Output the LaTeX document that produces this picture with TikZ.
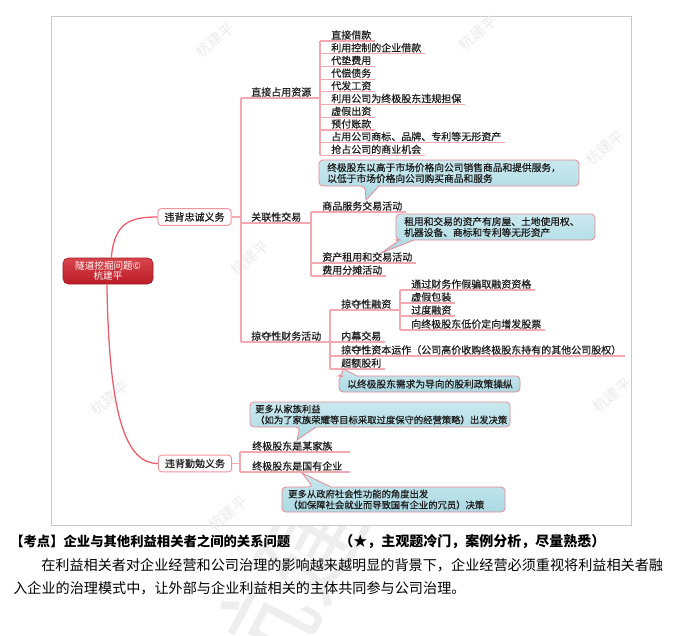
\documentclass[tikz,border=0pt]{standalone}
\usepackage{fontspec}
\setmainfont{Noto Sans CJK SC}
\newfontfamily\mmf{Noto Sans CJK SC}[FakeBold=0.6]
\usetikzlibrary{calc}
\definecolor{brc}{HTML}{F4A9B2}
\definecolor{curvec}{HTML}{EE5B68}
\definecolor{boxb}{HTML}{F0949E}
\definecolor{calf}{HTML}{ABD9E3}
\definecolor{calft}{HTML}{CBE9EF}
\definecolor{calb}{HTML}{E58A94}
\definecolor{rootf}{HTML}{BC1C26}
\definecolor{roott}{HTML}{D8454D}
\definecolor{frm}{HTML}{C9C9C9}
\definecolor{wm}{HTML}{EBEBEB}
\definecolor{txt}{HTML}{1E1E1E}
\newcommand\mmfont{\mmf\fontsize{7.5}{9}\selectfont}
\newcommand\calfont{\mmf\fontsize{7.3}{8.2}\selectfont}
\newcommand\calfontsm{\mmf\fontsize{7}{8.2}\selectfont}
\begin{document}
\begin{tikzpicture}[x=0.75pt,y=-0.75pt,
  br/.style={draw=brc, line width=0.9pt},
  curve/.style={draw=curvec, line width=0.95pt},
  leaf/.style={anchor=south west, inner xsep=0pt, inner ysep=0.8pt, font=\mmfont, text=txt},
  lone/.style={draw=boxb, fill=white, rounded corners=2.5pt, line width=0.7pt,
     minimum width=55pt, minimum height=12.5pt, inner sep=0pt, font=\mmfont, text=txt},
  rootbox/.style={rounded corners=4pt, top color=roott, bottom color=rootf, draw=rootf!85!black,
     line width=0.5pt, text=white, align=center, minimum width=67.5pt, minimum height=19.5pt,
     inner sep=0pt, font=\fontsize{7.2}{8}\selectfont},
  cal/.style={draw=calb, line width=0.6pt, top color=calft, bottom color=calf},
  caltext/.style={anchor=west, inner sep=0pt, align=left, font=\calfont, text=txt},
  wmark/.style={text=wm, rotate=40, font=\fontsize{11}{11}\selectfont}
]
\useasboundingbox (0,0) rectangle (697,636);
\fill[white] (0,0) rectangle (697,636);
% big faint watermark
\node[text=gray!13, rotate=62, font=\fontsize{80}{80}\selectfont] (bigwm) at (285,590) {杭建};
\draw[frm, fill=white, line width=0.75pt] (51,16) rectangle (631,525);
% watermarks
\foreach \p [count=\k] in {(215,40),(478,33),(605,148),(250,258),(110,398),(612,395),(228,513)}
  \node[wmark] (wm\k) at \p {杭建平};

% bar coordinates
\coordinate (b0) at (241,0);
\coordinate (bA) at (320,0);
\coordinate (bB) at (311,0);
\coordinate (bC) at (330,0);
\coordinate (bD) at (400,0);
\coordinate (bE) at (240,0);
\coordinate (eE) at (350,0);

% root and level 1
\node[rootbox] (root) at (108,271) {隧道挖掘问题©\\杭建平};
\node[lone] (L1a) at (194.5,217) {违背忠诚义务};
\node[lone] (L1b) at (195,463.5) {违背勤勉义务};
\draw[curve] ([xshift=2.5pt]root.north) .. controls +(3,-36) and +(-26,0) .. (L1a.west);
\draw[curve] ([xshift=-0.8pt]root.south) .. controls +(2,132) and +(-32,0) .. (L1b.west);

% level 2 under 违背忠诚义务
\node[leaf] (A1) at (251,98) {直接占用资源};
\node[leaf] (A2) at (251,223) {关联性交易};
\node[leaf] (A3) at (251,342) {掠夺性财务活动};
\draw[br] (L1a.east) -- (L1a.east -| b0);
\draw[br] (A1.south west -| b0) -- (A3.south west -| b0);
\draw[br] (A1.south west -| b0) -- (A1.south west -| bA);
\draw[br] (A2.south west -| b0) -- (A2.south west -| bB);
\draw[br] (A3.south west -| b0) -- (A3.south west -| bC);

% 直接占用资源 children
\foreach \t [count=\i from 0] in {直接借款,利用控制的企业借款,代垫费用,代偿债务,代发工资,利用公司为终极股东违规担保,虚假出资,预付账款,占用公司商标、品牌、专利等无形资产,抢占公司的商业机会}{
  \node[leaf] (d\i) at (331,41+12.7*\i) {\t};
  \draw[br] (d\i.south west -| bA) -- ([xshift=2.5pt]d\i.south east);
}
\draw[br] (d0.south west -| bA) -- (d9.south west -| bA);

% 关联性交易 children
\node[leaf] (g1) at (322,212) {商品服务交易活动};
\node[leaf] (g2) at (322,263) {资产租用和交易活动};
\node[leaf] (g3) at (322,276) {费用分摊活动};
\foreach \n in {g1,g2,g3}
  \draw[br] (\n.south west -| bB) -- ([xshift=2.5pt]\n.south east);
\draw[br] (g1.south west -| bB) -- (g3.south west -| bB);

% 掠夺性财务活动 children
\node[leaf] (R1) at (341,310) {掠夺性融资};
\node[leaf] (R2) at (341,342) {内幕交易};
\node[leaf] (R3) at (341,356) {掠夺性资本运作（公司高价收购终极股东持有的其他公司股权）};
\node[leaf] (R4) at (341,369) {超额股利};
\draw[br] (R1.south west -| bC) -- (R1.south west -| bD);
\foreach \n in {R2,R3,R4}
  \draw[br] (\n.south west -| bC) -- ([xshift=2.5pt]\n.south east);
\draw[br] (R1.south west -| bC) -- (R4.south west -| bC);

% 掠夺性融资 children
\node[leaf] (f1) at (411,290) {通过财务作假骗取融资资格};
\node[leaf] (f2) at (411,303) {虚假包装};
\node[leaf] (f3) at (411,316) {过度融资};
\node[leaf] (f4) at (411,330) {向终极股东低价定向增发股票};
\foreach \n in {f1,f2,f3,f4}
  \draw[br] (\n.south west -| bD) -- ([xshift=2.5pt]\n.south east);
\draw[br] (f1.south west -| bD) -- (f4.south west -| bD);

% 违背勤勉义务 children
\node[leaf] (h1) at (252,452) {终极股东是某家族};
\node[leaf] (h2) at (252,472) {终极股东是国有企业};
\draw[br] (L1b.east) -- (L1b.east -| bE);
\draw[br] (h1.south west -| bE) -- (h2.south west -| bE);
\foreach \n in {h1,h2}
  \draw[br] (\n.south west -| bE) -- (\n.south west -| eE);

% callouts
\path[cal] (366,200) -- (379,186) -- (380,186) [rounded corners=3pt] -- (579,186) -- (579,160) -- (319,160) -- (319,186) -- (365,186) [sharp corners] -- cycle;
\node[caltext] (c1) at (327,173) {终极股东以高于市场价格向公司销售商品和提供服务，\\以低于市场价格向公司购买商品和服务};

\path[cal] (381,253) -- (414,240) -- (415,240) [rounded corners=3pt] -- (595,240) -- (595,214) -- (396,214) -- (396,240) -- (400,240) [sharp corners] -- cycle;
\node[caltext] (c2) at (404,227) {租用和交易的资产有房屋、土地使用权、\\机器设备、商标和专利等无形资产};

\path[cal] (343,369) -- (357,376) -- (358,376) [rounded corners=3pt] -- (520,376) -- (520,392) -- (339,392) -- (339,376) -- (342,376) [sharp corners] -- cycle;
\node[caltext] (c3) at (347,384) {以终极股东需求为导向的股利政策操纵};

\path[cal] (297,440) -- (316,427) -- (317,427) [rounded corners=3pt] -- (510,427) -- (510,402) -- (250,402) -- (250,427) -- (300,427) [sharp corners] -- cycle;
\node[caltext, font=\calfontsm] (c4) at (255,414.5) {更多从家族利益\\（如为了家族荣耀等目标采取过度保守的经营策略）出发决策};

\path[cal] (302,473) -- (331,487) -- (332,487) [rounded corners=3pt] -- (505,487) -- (505,512) -- (282,512) -- (282,487) -- (313,487) [sharp corners] -- cycle;
\node[caltext, font=\calfontsm] (c5) at (288,499.5) {更多从政府社会性功能的角度出发\\（如保障社会就业而导致国有企业的冗员）决策};

% bottom text
\node[anchor=west, inner sep=0pt, text=black, font=\bfseries\fontsize{10}{12}\selectfont] (k1) at (10,541) {【考点】企业与其他利益相关者之间的关系问题};
\node[anchor=west, inner sep=0pt, text=black, font=\bfseries\fontsize{10.5}{12}\selectfont] (k2) at (339,541) {（★，主观题冷门，案例分析，尽量熟悉）};
\node[anchor=west, inner sep=0pt, text=black, font=\fontsize{10.6}{12}\selectfont] (p1) at (41,565) {在利益相关者对企业经营和公司治理的影响越来越明显的背景下，企业经营必须重视将利益相关者融};
\node[anchor=west, inner sep=0pt, text=black, font=\fontsize{10.6}{12}\selectfont] (p2) at (13,588) {入企业的治理模式中，让外部与企业利益相关的主体共同参与公司治理。};
\end{tikzpicture}
\end{document}
